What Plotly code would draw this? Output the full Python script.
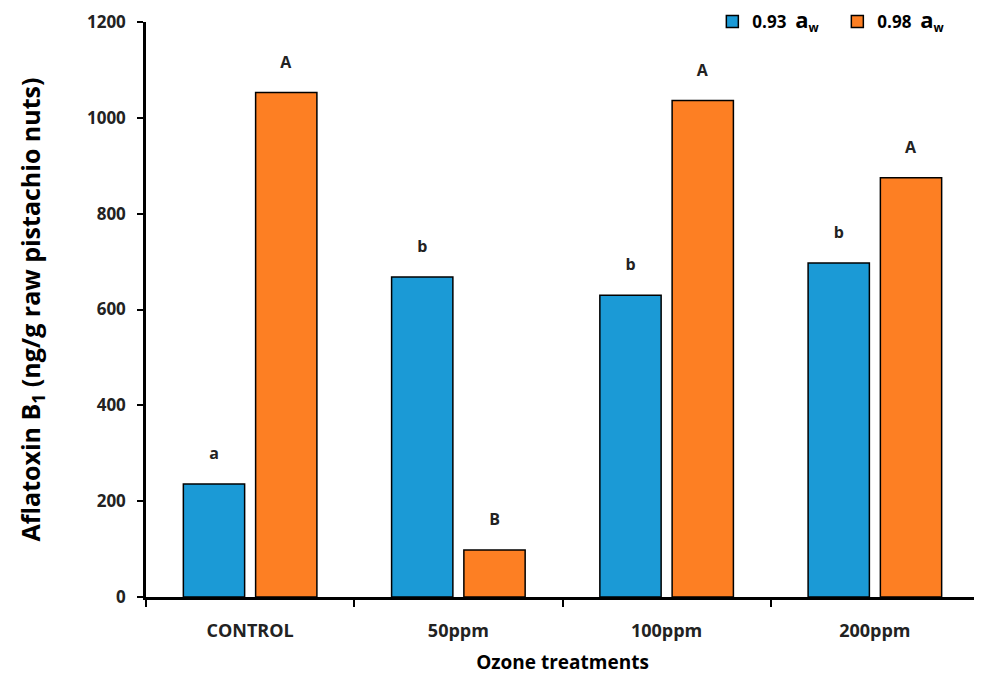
import plotly.graph_objects as go

categories = ["CONTROL", "50ppm", "100ppm", "200ppm"]
aw093 = [236, 668, 630, 697]
aw098 = [1053, 98, 1036, 875]
letters093 = ["a", "b", "b", "b"]
letters098 = ["A", "B", "A", "A"]
series_names = ["0.93 &nbsp;<span style='font-size:22px'>a</span><sub>w</sub>",
                "0.98 &nbsp;<span style='font-size:22px'>a</span><sub>w</sub>"]
yticks = [0, 200, 400, 600, 800, 1000, 1200]

FONT = "Open Sans"


def lift(labels):
    return [f"{s}<br><span style='font-size:5px'> </span>" for s in labels]


fig = go.Figure()
fig.add_bar(x=categories, y=aw093, name=series_names[0],
            marker=dict(color="#1B9AD6", line=dict(color="black", width=1.5)),
            text=lift(letters093), textposition="outside", cliponaxis=False,
            textfont=dict(family=FONT, size=16, color="#222", weight="bold"))
fig.add_bar(x=categories, y=aw098, name=series_names[1],
            marker=dict(color="#FD7F23", line=dict(color="black", width=1.5)),
            text=lift(letters098), textposition="outside", cliponaxis=False,
            textfont=dict(family=FONT, size=16, color="#222", weight="bold"))

fig.update_layout(
    width=982, height=687,
    margin=dict(l=138, r=11, t=14, b=98, autoexpand=False),
    plot_bgcolor="white", paper_bgcolor="white",
    barmode="group", bargap=0.306, bargroupgap=0.152,
    font=dict(family=FONT, color="black"),
    legend=dict(orientation="h", x=0.98, xanchor="right", y=1.0, yanchor="middle",
                font=dict(family=FONT, size=17, color="black", weight="bold"),
                entrywidth=80, entrywidthmode="pixels",
                bgcolor="rgba(0,0,0,0)"),
)
fig.update_yaxes(range=[0, 1200], tickvals=yticks, showgrid=False, zeroline=False,
                 showline=True, linecolor="black", linewidth=2.5,
                 ticks="outside", ticklen=6, tickwidth=2, tickcolor="black",
                 ticklabelstandoff=8,
                 tickfont=dict(family=FONT, size=17, color="#222", weight="bold"),
                 title=dict(text="Aflatoxin B<sub>1</sub> (ng/g raw pistachio nuts)",
                            font=dict(family=FONT, size=25, color="black", weight="bold"),
                            standoff=40))
fig.update_xaxes(showgrid=False, showline=True, linecolor="black", linewidth=2.5,
                 ticks="outside", tickson="boundaries", ticklen=7, tickwidth=2,
                 tickcolor="black", ticklabelstandoff=16,
                 tickfont=dict(family=FONT, size=18, color="#222", weight="bold"),
                 title=dict(text="Ozone treatments",
                            font=dict(family=FONT, size=19, color="black", weight="bold"),
                            standoff=15))

fig.write_html("out.html")
